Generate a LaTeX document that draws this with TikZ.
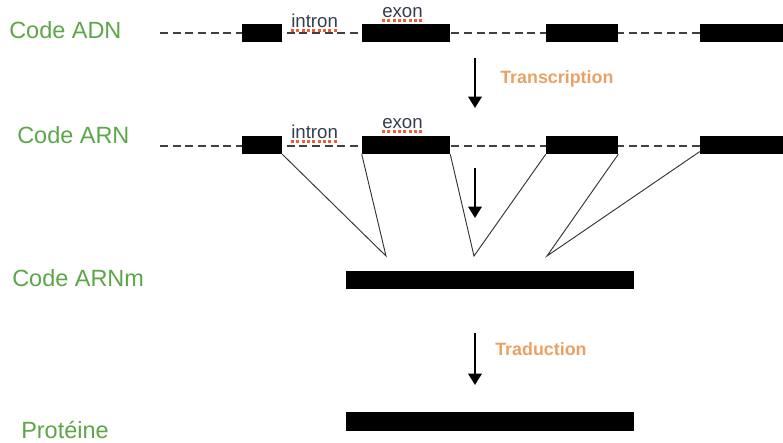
\documentclass[tikz,border=0pt]{standalone}
\usepackage{fontspec}
\setmainfont{Liberation Sans}
\usetikzlibrary{arrows.meta}
\definecolor{codegreen}{RGB}{92,166,72}
\definecolor{steporange}{RGB}{234,162,100}
\definecolor{wordgray}{RGB}{52,62,78}
\definecolor{spellred}{RGB}{240,92,52}
\tikzset{
  exonbox/.style={fill=black,inner sep=0pt,minimum height=13.5pt},
  codelab/.style={anchor=west,inner sep=0pt,text=codegreen,font=\fontsize{17.6}{20}\selectfont},
  steplab/.style={anchor=west,inner sep=0pt,text=steporange,font=\bfseries\fontsize{13.4}{16}\selectfont},
  wordlab/.style={anchor=base west,inner sep=0pt,text=wordgray,font=\fontsize{14}{16}\selectfont},
  spellmark/.style={spellred,line width=1.8pt,dash pattern=on 2.2pt off 1.8pt},
  backbone/.style={black!75,line width=0.9pt,dash pattern=on 6pt off 3.5pt},
  splice/.style={black!80,line width=0.7pt},
  flow/.style={-{Triangle[width=10pt,length=8.5pt]},line width=1.7pt}
}
\begin{document}
\begin{tikzpicture}[x=0.75pt,y=-0.75pt]
    \useasboundingbox (0,0) rectangle (783,443);
    % labels on the left
    \node[codelab] (adn) at (9,30) {Code ADN};
    \node[codelab] (arn) at (17,135) {Code ARN};
    \node[codelab] (arnm) at (12,278) {Code ARNm};
    \node[codelab] (prot) at (21,430) {Protéine};
    % DNA
    \draw[backbone] (160,33) -- (783,33);
    \node[exonbox,minimum width=30pt] (d1) at (262,33) {};
    \node[exonbox,minimum width=66pt] (d2) at (406,33) {};
    \node[exonbox,minimum width=54pt] (d3) at (582,33) {};
    \node[exonbox,minimum width=62.25pt] (d4) at (741.5,33) {};
    \node[wordlab] (int1) at (291,27) {intron};
    \node[wordlab] (ex1) at (382,17) {exon};
    % RNA
    \draw[backbone] (160,146) -- (783,146);
    \node[exonbox,minimum width=30pt] (r1) at (262,145) {};
    \node[exonbox,minimum width=66pt] (r2) at (406,145) {};
    \node[exonbox,minimum width=54pt] (r3) at (582,145) {};
    \node[exonbox,minimum width=62.25pt] (r4) at (741.5,145) {};
    \node[wordlab] (int2) at (291,138) {intron};
    \node[wordlab] (ex2) at (382,128) {exon};
    \foreach \w in {int1,ex1,int2,ex2}
        \draw[spellmark] ([yshift=-2.6pt]\w.base west) -- ([yshift=-2.6pt]\w.base east);
    % splicing
    \coordinate (s1) at (386,256);
    \coordinate (s2) at (474,256);
    \coordinate (s3) at (547,256);
    \draw[splice] (r1.south east) -- (s1) -- (r2.south west);
    \draw[splice] (r2.south east) -- (s2) -- (r3.south west);
    \draw[splice] (r3.south east) -- (s3) -- ([yshift=2pt]r4.south west);
    % mRNA and protein
    \node[exonbox,minimum width=216pt,minimum height=13.8pt] (m) at (490,280) {};
    \node[exonbox,minimum width=216pt,minimum height=13.8pt] (p) at (490,421.5) {};
    % steps
    \coordinate (t1) at (475,58);  \coordinate (t2) at (475,108);
    \coordinate (t3) at (475,168); \coordinate (t4) at (475,218);
    \coordinate (t5) at (475,333); \coordinate (t6) at (475,385);
    \draw[flow] (t1) -- (t2);
    \draw[flow] (t3) -- (t4);
    \draw[flow] (t5) -- (t6);
    \node[steplab] (tr) at (500,79) {Transcription};
    \node[steplab] (td) at (495,349) {Traduction};
\end{tikzpicture}
\end{document}
